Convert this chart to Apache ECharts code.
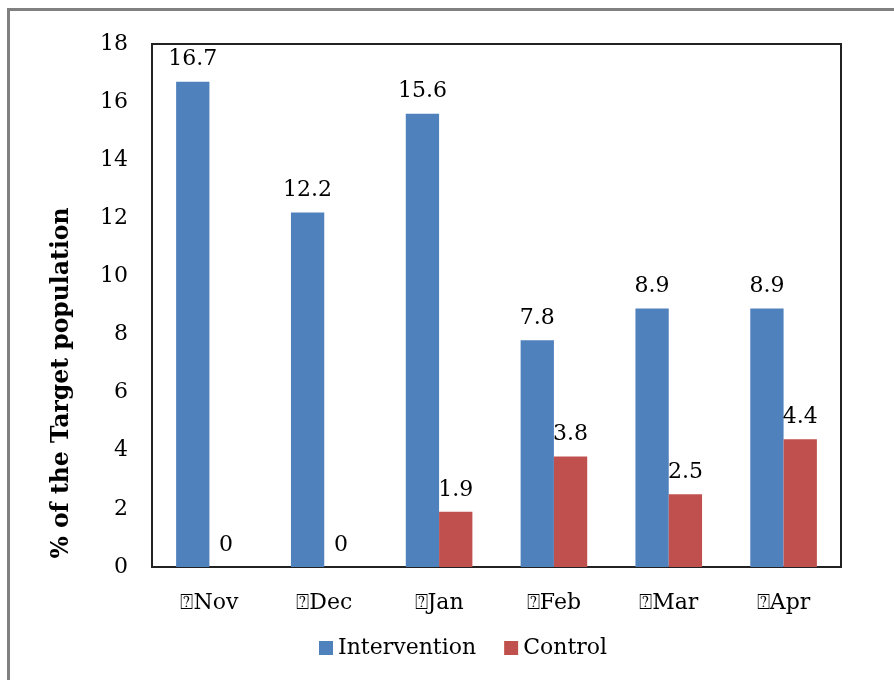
<!DOCTYPE html>
<html><head><meta charset="utf-8">
<script src="https://cdn.jsdelivr.net/npm/echarts@6/dist/echarts.min.js"></script>
<style>html,body{margin:0;padding:0;background:#fff}#c{width:894px;height:680px}</style>
</head><body><div id="c"></div>
<script>
const categories = ['⍰Nov', '⍰Dec', '⍰Jan', '⍰Feb', '⍰Mar', '⍰Apr'];
const intervention = [16.7, 12.2, 15.6, 7.8, 8.9, 8.9];
const control = [0, 0, 1.9, 3.8, 2.5, 4.4];
const yTicks = { min: 0, max: 18, interval: 2 };
const yTitle = '% of the Target population';
const seriesNames = ['Intervention', 'Control'];

const FONT = 'DejaVu Serif';
const chart = echarts.init(document.getElementById('c'), null, { renderer: 'canvas' });
const labelStyle = { show: true, position: 'top', distance: 11, fontFamily: FONT, fontSize: 22, color: '#000' };
chart.setOption({
  animation: false,
  grid: { left: 152, right: 53, top: 44, bottom: 113, show: true, borderColor: '#222', borderWidth: 2, backgroundColor: 'transparent' },
  legend: {
    data: seriesNames, bottom: 16, left: 314, itemWidth: 14, itemHeight: 14, itemGap: 28,
    icon: 'rect', textStyle: { fontFamily: FONT, fontSize: 22, color: '#000' }
  },
  xAxis: {
    type: 'category', data: categories,
    axisLine: { show: true, lineStyle: { color: '#222', width: 2 } },
    axisTick: { show: false },
    axisLabel: { fontFamily: FONT, fontSize: 22, color: '#000', margin: 25 }
  },
  yAxis: {
    type: 'value', min: yTicks.min, max: yTicks.max, interval: yTicks.interval,
    splitLine: { show: false },
    axisLine: { show: true, lineStyle: { color: '#222', width: 2 } },
    axisTick: { show: false },
    axisLabel: { fontFamily: FONT, fontSize: 22, color: '#000', margin: 24 }
  },
  graphic: [
    { type: 'rect', shape: { x: 8.5, y: 9.5, width: 1000, height: 800 }, style: { fill: 'none', stroke: '#808080', lineWidth: 3 }, silent: true },
    { type: 'text', x: 62, y: 383, rotation: Math.PI / 2,
      style: { text: yTitle, fontFamily: 'DejaVu Serif', fontWeight: 'bold', fontSize: 23.5, fill: '#000', textAlign: 'center', textVerticalAlign: 'middle' } }
  ],
  series: [
    { name: seriesNames[0], type: 'bar', data: intervention, barGap: '0%', barCategoryGap: '42%', itemStyle: { color: '#4F81BD' }, label: labelStyle },
    { name: seriesNames[1], type: 'bar', data: control, itemStyle: { color: '#C0504D' }, label: labelStyle }
  ]
});
</script></body></html>
